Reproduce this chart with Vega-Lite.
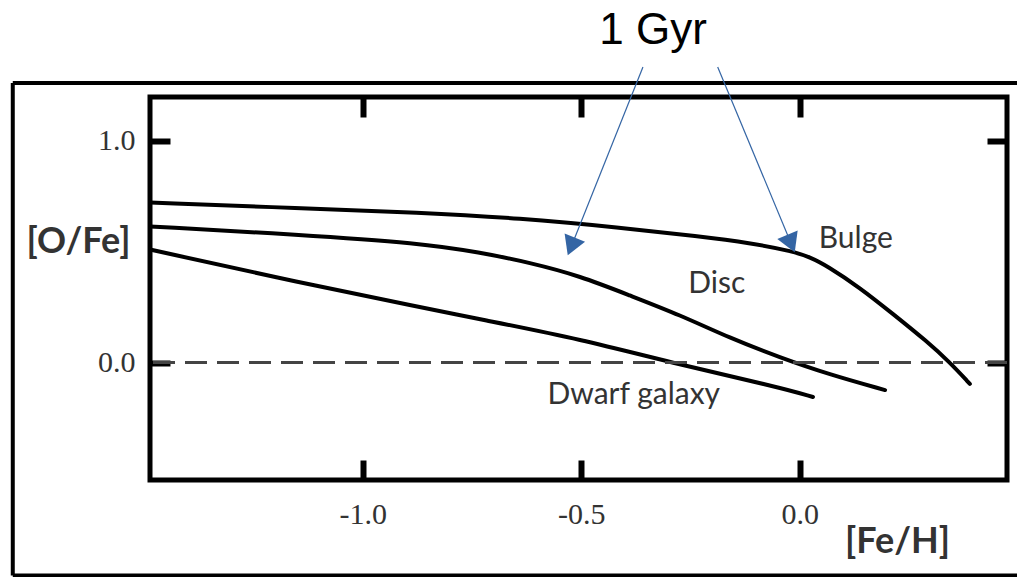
{
  "$schema": "https://vega.github.io/schema/vega-lite/v6.json",
  "width": 857,
  "height": 383,
  "autosize": {"type": "none"},
  "padding": {"left": 150, "top": 97, "right": 10, "bottom": 97},
  "background": "white",
  "data": {"values": [{}]},
  "config": {
    "view": {"stroke": "black", "strokeWidth": 5},
    "axis": {
      "grid": false,
      "domain": false,
      "tickColor": "black",
      "tickWidth": 6,
      "tickSize": -20,
      "labelFont": "Liberation Serif",
      "labelFontSize": 30,
      "labelColor": "#333333",
      "titleFont": "Lato",
      "titleFontWeight": "bold",
      "titleFontSize": 36,
      "titleColor": "#333333",
      "titleAngle": 0,
      "titleAlign": "center",
      "titleBaseline": "middle"
    }
  },
  "layer": [
    {
      "data": {
        "values": [
          {"series": "Bulge", "feh": -1.487, "ofe": 0.721},
          {"series": "Bulge", "feh": -1.144, "ofe": 0.695},
          {"series": "Bulge", "feh": -0.870, "ofe": 0.676},
          {"series": "Bulge", "feh": -0.641, "ofe": 0.650},
          {"series": "Bulge", "feh": -0.412, "ofe": 0.608},
          {"series": "Bulge", "feh": -0.229, "ofe": 0.568},
          {"series": "Bulge", "feh": -0.114, "ofe": 0.539},
          {"series": "Bulge", "feh": -0.016, "ofe": 0.501},
          {"series": "Bulge", "feh": 0.023, "ofe": 0.475},
          {"series": "Bulge", "feh": 0.062, "ofe": 0.436},
          {"series": "Bulge", "feh": 0.137, "ofe": 0.338},
          {"series": "Bulge", "feh": 0.213, "ofe": 0.219},
          {"series": "Bulge", "feh": 0.291, "ofe": 0.095},
          {"series": "Bulge", "feh": 0.343, "ofe": 0.001},
          {"series": "Bulge", "feh": 0.389, "ofe": -0.096},
          {"series": "Disc", "feh": -1.487, "ofe": 0.613},
          {"series": "Disc", "feh": -1.144, "ofe": 0.576},
          {"series": "Disc", "feh": -0.870, "ofe": 0.538},
          {"series": "Disc", "feh": -0.732, "ofe": 0.496},
          {"series": "Disc", "feh": -0.618, "ofe": 0.450},
          {"series": "Disc", "feh": -0.503, "ofe": 0.390},
          {"series": "Disc", "feh": -0.389, "ofe": 0.302},
          {"series": "Disc", "feh": -0.275, "ofe": 0.215},
          {"series": "Disc", "feh": -0.160, "ofe": 0.110},
          {"series": "Disc", "feh": -0.046, "ofe": 0.023},
          {"series": "Disc", "feh": 0.069, "ofe": -0.055},
          {"series": "Disc", "feh": 0.195, "ofe": -0.124},
          {"series": "Dwarf galaxy", "feh": -1.487, "ofe": 0.509},
          {"series": "Dwarf galaxy", "feh": -1.144, "ofe": 0.360},
          {"series": "Dwarf galaxy", "feh": -0.870, "ofe": 0.250},
          {"series": "Dwarf galaxy", "feh": -0.732, "ofe": 0.195},
          {"series": "Dwarf galaxy", "feh": -0.503, "ofe": 0.106},
          {"series": "Dwarf galaxy", "feh": -0.275, "ofe": -0.010},
          {"series": "Dwarf galaxy", "feh": -0.046, "ofe": -0.112},
          {"series": "Dwarf galaxy", "feh": 0.030, "ofe": -0.155}
        ]
      },
      "mark": {"type": "line", "interpolate": "basis", "strokeWidth": 4, "strokeCap": "round", "color": "black"},
      "encoding": {
        "x": {
          "field": "feh", "type": "quantitative",
          "scale": {"domain": [-1.487, 0.474], "nice": false, "zero": false},
          "axis": {"orient": "bottom", "values": [-1, -0.5, 0], "labelExpr": "replace(format(datum.value, '.1f'), '\u2212', '-')", "labelPadding": 39, "title": "[Fe/H]", "titleX": 747, "titleY": 61}
        },
        "y": {
          "field": "ofe", "type": "quantitative",
          "scale": {"domain": [-0.529, 1.196], "nice": false, "zero": false},
          "axis": {"orient": "left", "values": [0, 1], "labelExpr": "replace(format(datum.value, '.1f'), '\u2212', '-')", "labelPadding": 35, "title": "[O/Fe]", "titleX": -72, "titleY": 144}
        },
        "detail": {"field": "series"}
      }
    },
    {
      "mark": {"type": "rule", "strokeDash": [22, 10], "strokeWidth": 3, "color": "#444444"},
      "encoding": {"y": {"datum": 0, "type": "quantitative", "axis": null}}
    },
    {
      "mark": {"type": "rule", "strokeWidth": 4, "color": "black"},
      "encoding": {
        "x": {"datum": -1.801, "type": "quantitative", "axis": {"orient": "top", "values": [-1, -0.5, 0], "labels": false, "title": null}},
        "y": {"datum": -0.959, "type": "quantitative", "axis": {"orient": "right", "values": [0, 1], "labels": false, "title": null}},
        "y2": {"datum": 1.259}
      }
    },
    {
      "mark": {"type": "rule", "strokeWidth": 4, "color": "black"},
      "encoding": {
        "x": {"datum": -1.801, "type": "quantitative", "axis": null},
        "x2": {"datum": 0.53},
        "y": {"datum": 1.259, "type": "quantitative", "axis": null}
      }
    },
    {
      "mark": {"type": "rule", "strokeWidth": 4, "color": "black"},
      "encoding": {
        "x": {"datum": -1.801, "type": "quantitative", "axis": null},
        "x2": {"datum": 0.53},
        "y": {"datum": -0.959, "type": "quantitative", "axis": null}
      }
    },
    {
      "mark": {"type": "rule", "strokeWidth": 1.2, "color": "#3465a4"},
      "encoding": {
        "x": {"datum": -0.359, "type": "quantitative", "axis": null},
        "x2": {"datum": -0.523},
        "y": {"datum": 1.331, "type": "quantitative", "axis": null},
        "y2": {"datum": 0.523}
      }
    },
    {
      "mark": {"type": "rule", "strokeWidth": 1.2, "color": "#3465a4"},
      "encoding": {
        "x": {"datum": -0.188, "type": "quantitative", "axis": null},
        "x2": {"datum": -0.020},
        "y": {"datum": 1.331, "type": "quantitative", "axis": null},
        "y2": {"datum": 0.536}
      }
    },
    {
      "mark": {"type": "point", "shape": "triangle-up", "size": 484, "angle": 201.8, "filled": true, "opacity": 1, "color": "#3465a4"},
      "encoding": {
        "x": {"datum": -0.523, "type": "quantitative", "axis": null},
        "y": {"datum": 0.523, "type": "quantitative", "axis": null}
      }
    },
    {
      "mark": {"type": "point", "shape": "triangle-up", "size": 484, "angle": 157.7, "filled": true, "opacity": 1, "color": "#3465a4"},
      "encoding": {
        "x": {"datum": -0.020, "type": "quantitative", "axis": null},
        "y": {"datum": 0.536, "type": "quantitative", "axis": null}
      }
    },
    {
      "data": {
        "values": [
          {"label": "Bulge", "feh": 0.128, "ofe": 0.514},
          {"label": "Disc", "feh": -0.190, "ofe": 0.312},
          {"label": "Dwarf galaxy", "feh": -0.380, "ofe": -0.188}
        ]
      },
      "mark": {"type": "text", "font": "Lato", "fontSize": 30, "color": "#333333", "align": "center", "baseline": "alphabetic"},
      "encoding": {
        "x": {"field": "feh", "type": "quantitative", "axis": null},
        "y": {"field": "ofe", "type": "quantitative", "axis": null},
        "text": {"field": "label"}
      }
    },
    {
      "mark": {"type": "text", "font": "Liberation Sans", "fontSize": 44, "color": "black", "align": "center", "baseline": "alphabetic", "text": "1 Gyr"},
      "encoding": {
        "x": {"datum": -0.336, "type": "quantitative", "axis": null},
        "y": {"datum": 1.435, "type": "quantitative", "axis": null}
      }
    }
  ],
  "resolve": {"axis": {"x": "independent", "y": "independent"}}
}
